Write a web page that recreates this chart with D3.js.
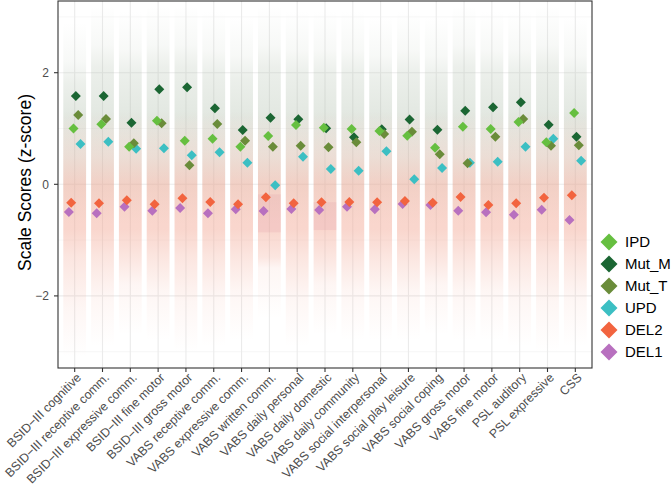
<!DOCTYPE html>
<html><head><meta charset="utf-8">
<script src="https://cdn.jsdelivr.net/npm/d3@7/dist/d3.min.js"></script>
<style>body{margin:0;background:#fff}svg{display:block;font-family:"Liberation Sans",Arial,sans-serif}</style>
</head><body><svg id="c" width="672" height="488"></svg>
<script>
const categories = ["BSID\u2212III cognitive","BSID\u2212III receptive comm.","BSID\u2212III expressive comm.","BSID\u2212III fine motor","BSID\u2212III gross motor","VABS receptive comm.","VABS expressive comm.","VABS written comm.","VABS daily personal","VABS daily domestic","VABS daily community","VABS social interpersonal","VABS social play leisure","VABS social coping","VABS gross motor","VABS fine motor","PSL auditory","PSL expressive","CSS"];
const groups = ["IPD","Mut_M","Mut_T","UPD","DEL2","DEL1"];
const colors = ["#66bf40","#1b6633","#6a8c3a","#3cbfc3","#f2643f","#b870bf"];
const IPD   = [1.00,1.075,0.674,1.14,0.78,0.817,0.674,0.866,1.063,1.014,0.991,0.955,0.871,0.656,1.032,0.991,1.116,0.753,1.278];
const Mut_M = [1.582,1.582,1.104,1.703,1.738,1.362,0.973,1.194,1.165,1.004,0.842,0.986,1.161,0.978,1.319,1.380,1.470,1.068,0.853];
const Mut_T = [1.242,1.170,0.735,1.093,0.340,1.081,0.781,0.674,0.692,0.663,0.753,0.901,0.943,0.538,0.376,0.853,1.170,0.692,0.699];
const UPD   = [0.722,0.763,0.638,0.645,0.520,0.573,0.387,-0.018,0.495,0.274,0.244,0.591,0.090,0.292,0.387,0.405,0.674,0.817,0.423];
const DEL2  = [-0.330,-0.341,-0.287,-0.358,-0.251,-0.317,-0.358,-0.233,-0.341,-0.323,-0.317,-0.323,-0.299,-0.330,-0.228,-0.371,-0.341,-0.240,-0.197];
const DEL1  = [-0.496,-0.520,-0.401,-0.473,-0.425,-0.520,-0.448,-0.478,-0.443,-0.461,-0.401,-0.448,-0.353,-0.371,-0.473,-0.502,-0.545,-0.455,-0.640];
// approximate extents of the individual-score point clouds
const cloudTop    = [2.2,2.5,2.4,2.5,2.5,2.4,2.3,2.5,2.4,2.4,2.4,2.3,2.4,2.3,2.5,2.4,2.4,2.5,2.3];
const cloudBottom = [-2.2,-2.0,-1.8,-1.9,-2.1,-2.0,-1.9,-1.5,-2.0,-1.8,-1.9,-1.9,-1.9,-1.8,-1.9,-1.9,-2.0,-2.1,-2.0];
const floorBlocks = [{cat:"VABS written comm.",hi:-0.18,lo:-0.86},{cat:"VABS daily domestic",hi:-0.32,lo:-0.82}];
const yTicks = [-2,0,2];
const yMinor = [-3,-1,1,3];

const series = {IPD,Mut_M,Mut_T,UPD,DEL2,DEL1};
const svg = d3.select("#c");
const L=58,R=592,T=1,B=368;
const x = d3.scalePoint().domain(categories).range([L,R]).padding(0.6);
const y = d3.scaleLinear().domain([-3.292,3.285]).range([B,T]);
const step = x.step();

const defs = svg.append("defs");
svg.append("clipPath").attr("id","pc").append("rect").attr("x",L).attr("y",T).attr("width",R-L).attr("height",B-T);

// grid
const g = svg.append("g");
g.selectAll(".mn").data(yMinor).join("line").attr("x1",L).attr("x2",R).attr("y1",d=>y(d)).attr("y2",d=>y(d)).attr("stroke","#f2f2f2").attr("stroke-width",0.6);
g.selectAll(".mj").data(yTicks).join("line").attr("x1",L).attr("x2",R).attr("y1",d=>y(d)).attr("y2",d=>y(d)).attr("stroke","#ebebeb").attr("stroke-width",1.1);
g.selectAll(".vx").data(categories).join("line").attr("x1",d=>x(d)).attr("x2",d=>x(d)).attr("y1",T).attr("y2",B).attr("stroke","#ebebeb").attr("stroke-width",1.1);

// clouds
const cl = svg.append("g").attr("clip-path","url(#pc)");
categories.forEach((c,i)=>{
  const top=cloudTop[i], bot=cloudBottom[i];
  const gid="gg"+i, pid="pg"+i;
  const gTop=top+0.7, gBot=-0.7;
  const gg=defs.append("linearGradient").attr("id",gid).attr("gradientUnits","userSpaceOnUse").attr("x1",0).attr("x2",0).attr("y1",y(gTop)).attr("y2",y(gBot));
  const off=v=>(gTop-v)/(gTop-gBot);
  [[gTop,0],[top,0.08],[top-0.4,0.2],[1.2,0.3],[0.3,0.2],[gBot,0]].forEach(s=>gg.append("stop").attr("offset",off(s[0])).attr("stop-color","#9fb19b").attr("stop-opacity",s[1]));
  const pTop=1.3, pBot=bot-0.9;
  const pg=defs.append("linearGradient").attr("id",pid).attr("gradientUnits","userSpaceOnUse").attr("x1",0).attr("x2",0).attr("y1",y(pTop)).attr("y2",y(pBot));
  const off2=v=>(pTop-v)/(pTop-pBot);
  [[pTop,0],[0.5,0.22],[0.0,0.45],[-0.8,0.45],[-1.3,0.28],[bot,0.1],[pBot,0]].forEach(s=>pg.append("stop").attr("offset",off2(s[0])).attr("stop-color","#f2a490").attr("stop-opacity",s[1]));
  cl.append("rect").attr("x",x(c)-step*0.41).attr("width",step*0.82).attr("y",y(gTop)).attr("height",y(gBot)-y(gTop)).attr("fill",`url(#${gid})`);
  cl.append("rect").attr("x",x(c)-step*0.41).attr("width",step*0.82).attr("y",y(pTop)).attr("height",y(pBot)-y(pTop)).attr("fill",`url(#${pid})`);
});
cl.selectAll(".fb").data(floorBlocks).join("rect").attr("x",d=>x(d.cat)-step*0.41).attr("width",step*0.82).attr("y",d=>y(d.hi)).attr("height",d=>y(d.lo)-y(d.hi)).attr("fill","#d98a9a").attr("opacity",0.16);

// means
const dodgeOrder = ["DEL1","DEL2","IPD","Mut_M","Mut_T","UPD"];
const dw = step*0.5/6;
const diamond = (cx,cy,r)=>`M${cx},${cy-r}L${cx+r},${cy}L${cx},${cy+r}L${cx-r},${cy}Z`;
const drawOrder = ["DEL1","DEL2","UPD","Mut_M","Mut_T","IPD"];
const mg = svg.append("g");
drawOrder.forEach(gn=>{
  const k=dodgeOrder.indexOf(gn);
  const col=colors[groups.indexOf(gn)];
  mg.selectAll(null).data(series[gn]).join("path")
    .attr("d",(v,i)=>diamond(x(categories[i])+(k-2.5)*dw, y(v), 5))
    .attr("fill",col);
});

// panel border
svg.append("rect").attr("x",L).attr("y",T).attr("width",R-L).attr("height",B-T).attr("fill","none").attr("stroke","#333").attr("stroke-width",1.1);

// axes
const ya = svg.append("g");
ya.selectAll("line").data(yTicks).join("line").attr("x1",L-4).attr("x2",L).attr("y1",d=>y(d)).attr("y2",d=>y(d)).attr("stroke","#333").attr("stroke-width",1.1);
ya.selectAll("text").data(yTicks).join("text").attr("x",L-9).attr("y",d=>y(d)).attr("dy","0.35em").attr("text-anchor","end").attr("font-size",12).attr("fill","#4d4d4d").text(d=>d<0?"\u2212"+Math.abs(d):d);
const xa = svg.append("g");
xa.selectAll("line").data(categories).join("line").attr("x1",d=>x(d)).attr("x2",d=>x(d)).attr("y1",B).attr("y2",B+4).attr("stroke","#333").attr("stroke-width",1.1);
xa.selectAll("text").data(categories).join("text").attr("transform",d=>`translate(${x(d)+1},${B+4}) rotate(-45)`).attr("text-anchor","end").attr("dy","0.72em").attr("font-size",12.4).attr("fill","#4d4d4d").text(d=>d);

svg.append("text").attr("transform",`translate(31,${(T+B)/2-2}) rotate(-90)`).attr("text-anchor","middle").attr("font-size",17.5).attr("fill","#000").text("Scale Scores (z-score)");

// legend
const lg = svg.append("g");
groups.forEach((gn,i)=>{
  const cy=242+i*22;
  lg.append("path").attr("d",diamond(609,cy,8.5)).attr("fill",colors[i]);
  lg.append("text").attr("x",625).attr("y",cy).attr("dy","0.36em").attr("font-size",15).attr("fill","#000").text(gn);
});
</script></body></html>
